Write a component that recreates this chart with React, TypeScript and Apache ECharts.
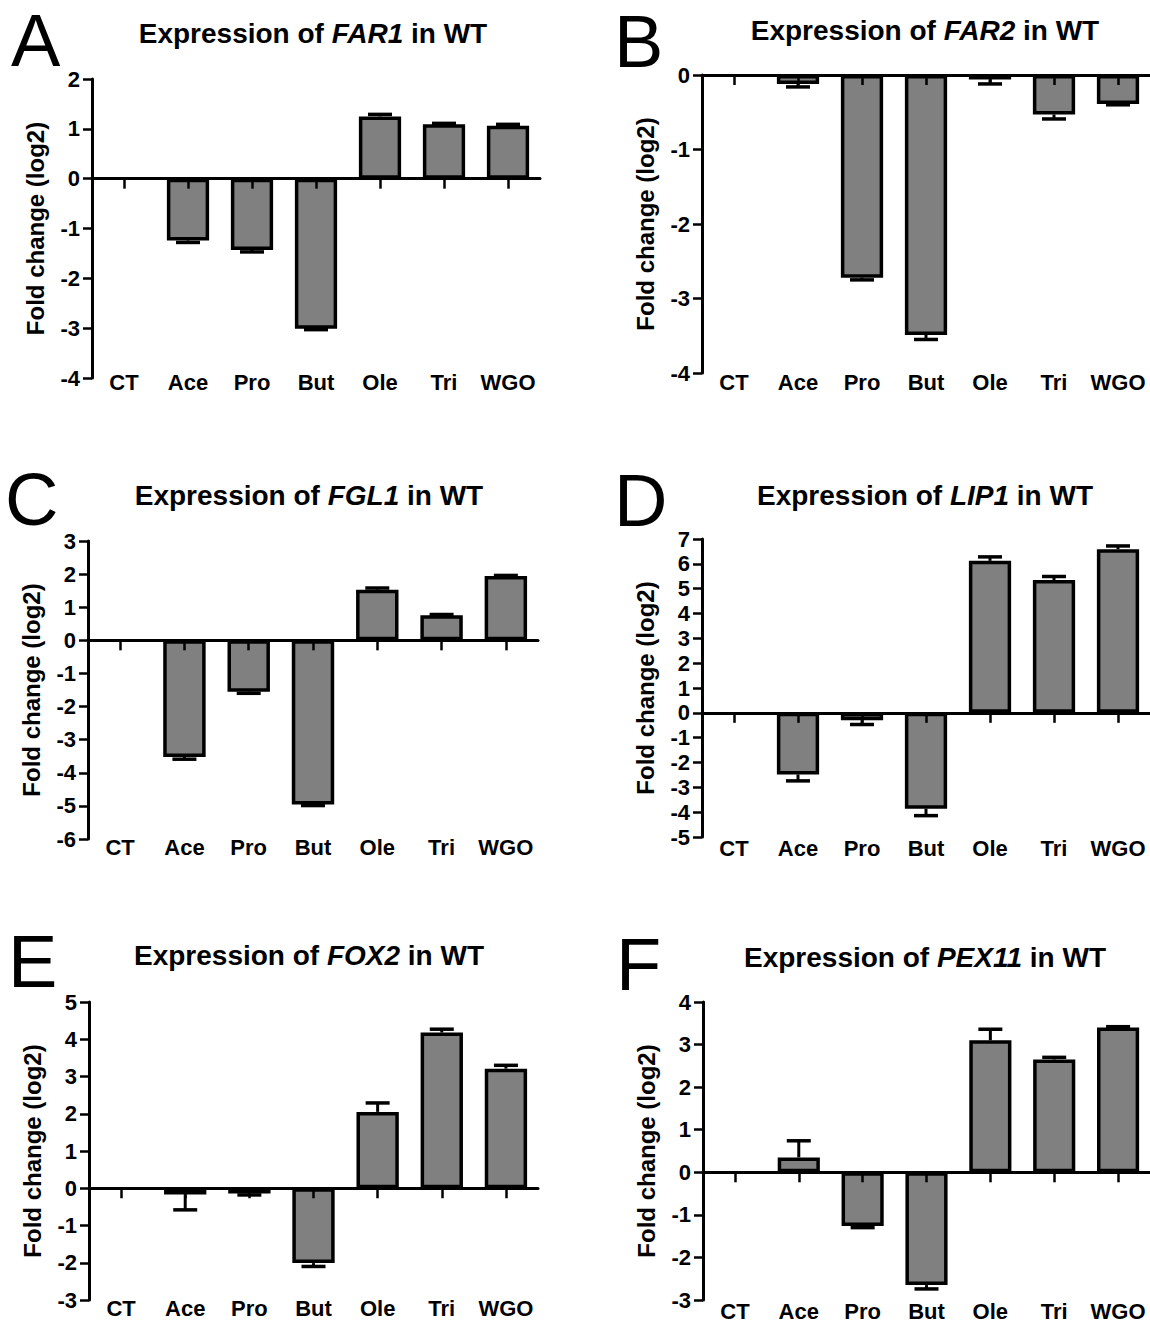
import React, { useEffect, useRef } from 'react';
import * as echarts from 'echarts';

const FONT = '"Liberation Sans", Arial, Helvetica, sans-serif';

const categories = ['CT', 'Ace', 'Pro', 'But', 'Ole', 'Tri', 'WGO'];

// Panel A – FAR1
const far1Values = [0, -1.24, -1.43, -3.01, 1.25, 1.09, 1.06];
const far1Errors = [0, 0.04, 0.04, 0.02, 0.04, 0.02, 0.03];
// Panel B – FAR2
const far2Values = [0, -0.12, -2.72, -3.49, -0.06, -0.53, -0.39];
const far2Errors = [0, 0.04, 0.03, 0.06, 0.06, 0.06, 0.01];
// Panel C – FGL1
const fgl1Values = [0, -3.52, -1.55, -4.96, 1.53, 0.76, 1.94];
const fgl1Errors = [0, 0.07, 0.05, 0.03, 0.05, 0.02, 0.02];
// Panel D – LIP1
const lip1Values = [0, -2.48, -0.3, -3.86, 6.12, 5.35, 6.59];
const lip1Errors = [0, 0.26, 0.17, 0.28, 0.16, 0.14, 0.13];
// Panel E – FOX2
const fox2Values = [0, -0.17, -0.14, -2.01, 2.05, 4.18, 3.21];
const fox2Errors = [0, 0.41, 0.04, 0.09, 0.24, 0.09, 0.09];
// Panel F – PEX11
const pex11Values = [0, 0.35, -1.26, -2.65, 3.1, 2.65, 3.4];
const pex11Errors = [0, 0.39, 0.04, 0.09, 0.26, 0.05, 0.02];

const panelLetters = ['A', 'B', 'C', 'D', 'E', 'F'];
const geneNames = ['FAR1', 'FAR2', 'FGL1', 'LIP1', 'FOX2', 'PEX11'];
const yMins = [-4, -4, -6, -5, -3, -3];
const yMaxs = [2, 0, 3, 7, 5, 4];
const yAxisTitle = 'Fold change (log2)';

const valueSets = [far1Values, far2Values, fgl1Values, lip1Values, fox2Values, pex11Values];
const errorSets = [far1Errors, far2Errors, fgl1Errors, lip1Errors, fox2Errors, pex11Errors];

// layout (pixels)
const layout = [
  { left: 92, top: 79, width: 448, height: 299, labelGap: 4, titleX: 313, titleY: 33, letterX: 11, letterY: 40 },
  { left: 702, top: 75, width: 450, height: 298, labelGap: 9, titleX: 925, titleY: 30, letterX: 614, letterY: 41 },
  { left: 88, top: 541, width: 450, height: 298, labelGap: 8, titleX: 309, titleY: 495, letterX: 5, letterY: 499 },
  { left: 702, top: 539, width: 450, height: 298, labelGap: 11, titleX: 925, titleY: 495, letterX: 614, letterY: 500 },
  { left: 89, top: 1002, width: 449, height: 298, labelGap: 8, titleX: 309, titleY: 955, letterX: 8, letterY: 961 },
  { left: 703, top: 1002, width: 450, height: 300, labelGap: 11, titleX: 925, titleY: 957, letterX: 616, letterY: 964 },
];

function buildOption() {
  const grid: any[] = [];
  const xAxis: any[] = [];
  const yAxis: any[] = [];
  const series: any[] = [];
  const graphic: any[] = [];

  layout.forEach((L, i) => {
    grid.push({ left: L.left, top: L.top, width: L.width, height: L.height, containLabel: false });
    xAxis.push({
      gridIndex: i,
      type: 'category',
      data: categories,
      position: 'bottom',
      z: 5,
      axisLine: { show: true, onZero: true, lineStyle: { color: '#000', width: 3 } },
      axisTick: { show: true, alignWithLabel: true, length: 10, lineStyle: { color: '#000', width: 2.5 } },
      axisLabel: { show: false },
      splitLine: { show: false },
    });
    xAxis.push({
      gridIndex: i,
      type: 'category',
      data: categories,
      position: 'bottom',
      axisLine: { show: false, onZero: false },
      axisTick: { show: false },
      axisLabel: {
        show: true,
        interval: 0,
        margin: L.labelGap,
        verticalAlign: 'middle',
        fontSize: 22,
        fontWeight: 'bold',
        color: '#000',
        fontFamily: FONT,
      },
      splitLine: { show: false },
    });
    yAxis.push({
      gridIndex: i,
      type: 'value',
      min: yMins[i],
      max: yMaxs[i],
      interval: 1,
      z: 5,
      axisLine: { show: true, onZero: false, lineStyle: { color: '#000', width: 3 } },
      axisTick: { show: true, length: 9, lineStyle: { color: '#000', width: 2.5 } },
      axisLabel: { margin: 12, fontSize: 22, fontWeight: 'bold', color: '#000', fontFamily: FONT },
      splitLine: { show: false },
      name: yAxisTitle,
      nameLocation: 'middle',
      nameGap: 45,
      nameTextStyle: { fontSize: 24, fontWeight: 'bold', color: '#000', fontFamily: FONT },
    });

    const vals = valueSets[i];
    const errs = errorSets[i];
    series.push({
      type: 'bar',
      xAxisIndex: 2 * i,
      yAxisIndex: i,
      barWidth: '66%',
      z: 2,
      itemStyle: { color: '#808080', borderColor: '#000', borderWidth: 3.5 },
      data: vals.map((v) => (v === 0 ? { value: v, itemStyle: { borderWidth: 0 } } : v)),
    });
    series.push({
      type: 'custom',
      xAxisIndex: 2 * i,
      yAxisIndex: i,
      z: 3,
      encode: { x: 0, y: 1 },
      data: vals.map((v, k) => [k, v, errs[k]]),
      renderItem: (params: any, api: any) => {
        const x = api.value(0);
        const v = api.value(1);
        const e = api.value(2);
        if (!e) return null;
        const dir = v >= 0 ? 1 : -1;
        const p0 = api.coord([x, v]);
        const p1 = api.coord([x, v + dir * e]);
        const half = 12;
        return {
          type: 'group',
          children: [
            { type: 'line', shape: { x1: p0[0], y1: p0[1], x2: p1[0], y2: p1[1] }, style: { stroke: '#000', lineWidth: 3 } },
            { type: 'line', shape: { x1: p1[0] - half, y1: p1[1], x2: p1[0] + half, y2: p1[1] }, style: { stroke: '#000', lineWidth: 3.5 } },
          ],
        };
      },
    });

    graphic.push({
      type: 'text',
      x: L.letterX,
      y: L.letterY,
      style: {
        text: panelLetters[i],
        fontSize: 74,
        lineHeight: 58,
        fontFamily: FONT,
        fill: '#000',
        align: 'left',
        verticalAlign: 'middle',
      },
    });
    graphic.push({
      type: 'text',
      x: L.titleX,
      y: L.titleY,
      style: {
        text: 'Expression of {i|' + geneNames[i] + '} in WT',
        fontSize: 28,
        fontWeight: 'bold',
        fontFamily: FONT,
        fill: '#000',
        align: 'center',
        verticalAlign: 'middle',
        rich: {
          i: { fontSize: 28, fontWeight: 'bold', fontStyle: 'italic', fontFamily: FONT, fill: '#000' },
        },
      },
    });
  });

  return {
    animation: false,
    backgroundColor: '#fff',
    grid,
    xAxis,
    yAxis,
    series,
    graphic,
  };
}

export default function App() {
  const ref = useRef<HTMLDivElement>(null);
  useEffect(() => {
    if (!ref.current) return;
    const chart = echarts.init(ref.current, undefined, { renderer: 'svg' });
    chart.setOption(buildOption() as any);
    return () => chart.dispose();
  }, []);
  return (
    <div
      ref={ref}
      style={{ position: 'absolute', left: 0, top: 0, width: 1150, height: 1322, background: '#fff' }}
    />
  );
}
